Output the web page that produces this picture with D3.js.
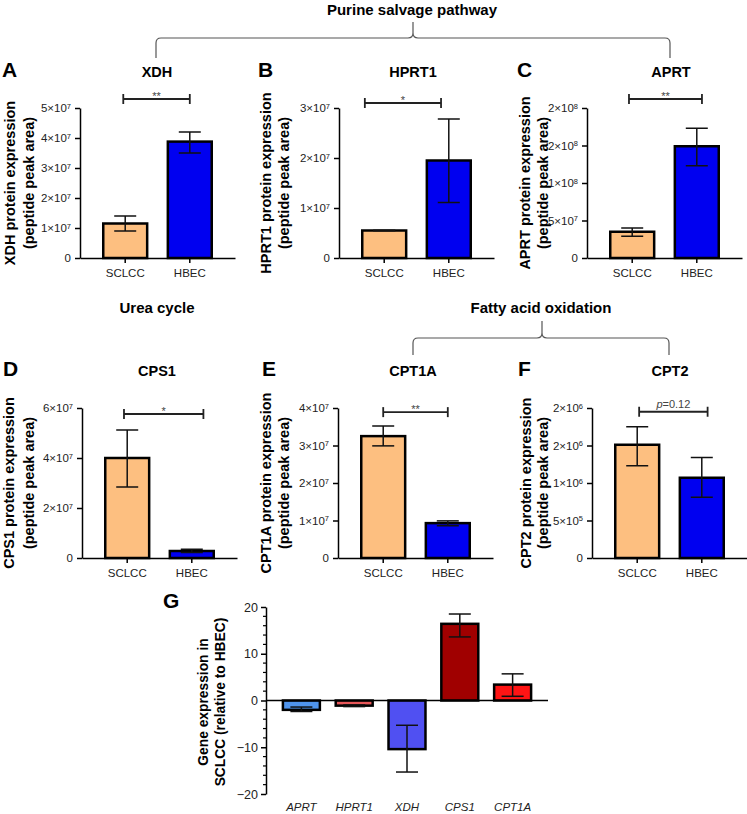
<!DOCTYPE html>
<html>
<head>
<meta charset="utf-8">
<script src="https://cdn.jsdelivr.net/npm/d3@7"></script>
<style>
  body { margin: 0; background: #fff; }
  svg { font-family: "Liberation Sans", Arial, sans-serif; }
</style>
</head>
<body>
<svg id="fig" width="747" height="814"></svg>
<script>
// ---- data ----
const groups = ["SCLCC", "HBEC"];
const genes = ["XDH", "HPRT1", "APRT", "CPS1", "CPT1A", "CPT2"];
const letters = ["A", "B", "C", "D", "E", "F"];

const meanSCLCC = [1.15e7, 5.5e6, 3.5e7, 4.0e7, 3.25e7, 1.51e6];
const errSCLCC = [[0.9e7, 1.4e7], [5.5e6, 5.5e6], [2.9e7, 4.0e7], [2.84e7, 5.12e7], [2.99e7, 3.52e7], [1.23e6, 1.75e6]];
const meanHBEC = [3.88e7, 1.95e7, 1.49e8, 2.8e6, 9.3e6, 1.07e6];
const errHBEC = [[3.5e7, 4.2e7], [1.11e7, 2.78e7], [1.23e8, 1.73e8], [2.2e6, 3.5e6], [8.6e6, 9.9e6], [0.81e6, 1.34e6]];

const yMax = [5e7, 3e7, 2e8, 6e7, 4e7, 2e6];
const tickVals = [
  [0, 1e7, 2e7, 3e7, 4e7, 5e7],
  [0, 1e7, 2e7, 3e7],
  [0, 5e7, 1e8, 1.5e8, 2e8],
  [0, 2e7, 4e7, 6e7],
  [0, 1e7, 2e7, 3e7, 4e7],
  [0, 5e5, 1e6, 1.5e6, 2e6]
];
const tickText = [
  ["0", "1×10^7", "2×10^7", "3×10^7", "4×10^7", "5×10^7"],
  ["0", "1×10^7", "2×10^7", "3×10^7"],
  ["0", "5×10^7", "1×10^8", "2×10^8", "2×10^8"],
  ["0", "2×10^7", "4×10^7", "6×10^7"],
  ["0", "1×10^7", "2×10^7", "3×10^7", "4×10^7"],
  ["0", "5×10^5", "1×10^6", "2×10^6", "2×10^6"]
];

// significance brackets: label, height (data units), extent in category units
const sigLabel = ["**", "*", "**", "*", "**", "p=0.12"];
const sigLevel = [5.3e7, 3.1e7, 2.12e8, 5.76e7, 3.89e7, 1.95e6];
const sigSpan = [[-0.03, 1.0], [-0.3, 0.88], [-0.05, 1.08], [-0.05, 1.18], [0, 1], [0.03, 1.09]];

// panel G: qPCR fold change
const qGenes = ["APRT", "HPRT1", "XDH", "CPS1", "CPT1A"];
const qFold = [-2.0, -1.1, -10.4, 16.4, 3.4];
const qLo = [-2.35, -1.3, -15.3, 13.6, 0.9];
const qHi = [-1.4, -0.95, -5.3, 18.5, 5.7];
const qColors = ["#4f94ec", "#e8585a", "#5050f2", "#a00000", "#ff1414"];

const peach = "#fdbf80", blue = "#0000f0";

// ---- layout ----
const layout = [
  {x: 80,  top: 108, tx: 157, lx: 2,   ty: 77,  yl: [15, 34]},
  {x: 339, top: 108, tx: 413, lx: 258, ty: 77,  yl: [271, 289]},
  {x: 587, top: 108, tx: 671, lx: 517, ty: 77,  yl: [530, 548]},
  {x: 82,  top: 408, tx: 157, lx: 3,   ty: 376, yl: [14, 34]},
  {x: 338, top: 408, tx: 413, lx: 262, ty: 376, yl: [271, 289]},
  {x: 592, top: 408, tx: 670, lx: 518, ty: 376, yl: [531, 548]}
];
const plotH = 150, plotW = 155;

const svg = d3.select("#fig");

function supLabel(sel, str) {
  sel.text(null);
  const parts = str.split("^");
  sel.append("tspan").text(parts[0]);
  if (parts[1]) {
    sel.append("tspan").attr("dy", "-0.45em").attr("font-size", "0.65em").text(parts[1]);
  }
}

genes.forEach(function(gene, i) {
  const L = layout[i];
  const g = svg.append("g").attr("transform", `translate(${L.x},${L.top})`);
  const x = d3.scaleBand().domain(groups).range([0, plotW]).paddingInner(0.32).paddingOuter(0.36);
  const y = d3.scaleLinear().domain([0, yMax[i]]).range([plotH, 0]);
  const bw = x.bandwidth();

  const rows = [
    {grp: "SCLCC", v: meanSCLCC[i], lo: errSCLCC[i][0], hi: errSCLCC[i][1], c: peach},
    {grp: "HBEC", v: meanHBEC[i], lo: errHBEC[i][0], hi: errHBEC[i][1], c: blue}
  ];

  g.selectAll(".bar").data(rows).enter().append("rect")
    .attr("x", d => x(d.grp))
    .attr("y", d => y(d.v))
    .attr("width", bw)
    .attr("height", d => y(0) - y(d.v))
    .attr("fill", d => d.c)
    .attr("stroke", "#000")
    .attr("stroke-width", 2.5);

  const eb = g.selectAll(".err").data(rows).enter().append("g")
    .attr("transform", d => `translate(${x(d.grp) + bw / 2},0)`)
    .attr("stroke", "#111").attr("stroke-width", 1.5);
  eb.append("line").attr("y1", d => y(d.lo)).attr("y2", d => y(d.hi));
  eb.append("line").attr("x1", -11).attr("x2", 11).attr("y1", d => y(d.hi)).attr("y2", d => y(d.hi));
  eb.append("line").attr("x1", -11).attr("x2", 11).attr("y1", d => y(d.lo)).attr("y2", d => y(d.lo));

  // axes
  const ya = g.append("g").call(d3.axisLeft(y).tickValues(tickVals[i]).tickSize(5).tickSizeOuter(0).tickPadding(4));
  ya.selectAll("text").attr("font-size", 11.5).attr("fill", "#222").attr("font-family", null)
    .each(function(d, k) { supLabel(d3.select(this), tickText[i][k]); });
  const xa = g.append("g").attr("transform", `translate(0,${plotH})`)
    .call(d3.axisBottom(x).tickSize(5).tickSizeOuter(0).tickPadding(6));
  xa.selectAll("text").attr("font-size", 11.5).attr("fill", "#222").attr("font-family", null);
  g.selectAll(".domain, .tick line").attr("stroke", "#000").attr("stroke-width", 1.5);

  // significance bracket
  const sx = d3.scaleLinear().domain([0, 1]).range([x("SCLCC") + bw / 2, x("HBEC") + bw / 2]);
  const sy = y(sigLevel[i]);
  const x1 = sx(sigSpan[i][0]), x2 = sx(sigSpan[i][1]);
  const sb = g.append("g").attr("stroke", "#222").attr("stroke-width", 1.8);
  sb.append("line").attr("x1", x1).attr("x2", x2).attr("y1", sy).attr("y2", sy);
  sb.append("line").attr("x1", x1).attr("x2", x1).attr("y1", sy - 5).attr("y2", sy + 5);
  sb.append("line").attr("x1", x2).attr("x2", x2).attr("y1", sy - 5).attr("y2", sy + 5);
  const lab = sigLabel[i];
  const st = g.append("text").attr("x", (x1 + x2) / 2).attr("text-anchor", "middle")
    .attr("font-size", 11).attr("fill", "#444");
  if (lab.startsWith("p")) {
    st.attr("y", sy - 4);
    st.append("tspan").attr("font-style", "italic").text("p");
    st.append("tspan").text(lab.slice(1));
  } else {
    st.attr("y", sy + 1).text(lab);
  }

  // titles
  svg.append("text").attr("x", L.tx).attr("y", L.ty).attr("text-anchor", "middle")
    .attr("font-weight", "bold").attr("font-size", 14.5).text(gene);
  svg.append("text").attr("x", L.lx).attr("y", L.ty).attr("font-weight", "bold")
    .attr("font-size", 21).text(letters[i]);

  const cy = L.top + plotH / 2;
  const ylab = svg.append("g").attr("font-weight", "bold").attr("font-size", 14.5).attr("text-anchor", "middle");
  ylab.append("text").attr("transform", `translate(${L.yl[0]},${cy}) rotate(-90)`).text(gene + " protein expression");
  ylab.append("text").attr("transform", `translate(${L.yl[1]},${cy}) rotate(-90)`).text("(peptide peak area)");
});

// ---- group headers and braces ----
function brace(x1, x2, xm, yh, yEnd, yTop) {
  const r = 5;
  return `M${x1},${yEnd} V${yh + r} Q${x1},${yh} ${x1 + r},${yh} H${xm - r} Q${xm},${yh} ${xm},${yh - r} V${yTop}` +
         ` M${xm},${yh - r} Q${xm},${yh} ${xm + r},${yh} H${x2 - r} Q${x2},${yh} ${x2},${yh + r} V${yEnd}`;
}
svg.append("path").attr("d", brace(156, 670, 413, 38, 58, 22))
  .attr("fill", "none").attr("stroke", "#555").attr("stroke-width", 1.2);
svg.append("path").attr("d", brace(413, 669, 542, 338, 355, 321))
  .attr("fill", "none").attr("stroke", "#555").attr("stroke-width", 1.2);

const headers = [["Purine salvage pathway", 412, 15], ["Urea cycle", 157, 313], ["Fatty acid oxidation", 541, 313]];
svg.selectAll(".hdr").data(headers).enter().append("text")
  .attr("x", d => d[1]).attr("y", d => d[2]).attr("text-anchor", "middle")
  .attr("font-weight", "bold").attr("font-size", 15).text(d => d[0]);

// ---- panel G ----
const gx = d3.scaleBand().domain(qGenes).range([266, 548]).paddingInner(0.3).paddingOuter(0.32);
const gy = d3.scaleLinear().domain([-20, 20]).range([794, 607]);
const gbw = gx.bandwidth();
const qRows = qGenes.map((k, i) => ({k: k, v: qFold[i], lo: qLo[i], hi: qHi[i], c: qColors[i]}));

svg.selectAll(".qbar").data(qRows).enter().append("rect")
  .attr("x", d => gx(d.k))
  .attr("y", d => Math.min(gy(d.v), gy(0)))
  .attr("width", gbw)
  .attr("height", d => Math.abs(gy(d.v) - gy(0)))
  .attr("fill", d => d.c)
  .attr("stroke", "#000")
  .attr("stroke-width", 2.5);

const qeb = svg.selectAll(".qerr").data(qRows).enter().append("g")
  .attr("transform", d => `translate(${gx(d.k) + gbw / 2},0)`)
  .attr("stroke", "#111").attr("stroke-width", 1.5);
qeb.append("line").attr("y1", d => gy(d.lo)).attr("y2", d => gy(d.hi));
qeb.append("line").attr("x1", -11).attr("x2", 11).attr("y1", d => gy(d.hi)).attr("y2", d => gy(d.hi));
qeb.append("line").attr("x1", -11).attr("x2", 11).attr("y1", d => gy(d.lo)).attr("y2", d => gy(d.lo));

svg.append("line").attr("x1", 266).attr("x2", 548).attr("y1", gy(0)).attr("y2", gy(0))
  .attr("stroke", "#000").attr("stroke-width", 1.5);

const gya = svg.append("g").attr("transform", "translate(266,0)")
  .call(d3.axisLeft(gy).tickValues([-20, -10, 0, 10, 20]).tickSize(5).tickSizeOuter(0).tickPadding(3)
    .tickFormat(d => d < 0 ? "\u2212" + (-d) : d));
gya.selectAll("text").attr("font-size", 12.5).attr("fill", "#222").attr("font-family", null);
gya.selectAll(".domain, .tick line").attr("stroke", "#000").attr("stroke-width", 1.5);
gya.selectAll(".minor").data(d3.range(-20, 21, 2).filter(v => v % 10 !== 0)).enter().append("line")
  .attr("x1", -3).attr("x2", 0).attr("y1", d => gy(d)).attr("y2", d => gy(d))
  .attr("stroke", "#000").attr("stroke-width", 1.2);

svg.selectAll(".qlab").data(qGenes).enter().append("text")
  .attr("x", d => gx(d) + gbw / 2).attr("y", 811).attr("text-anchor", "middle")
  .attr("font-style", "italic").attr("font-size", 11.5).attr("fill", "#222").text(d => d);

svg.append("text").attr("x", 163).attr("y", 608).attr("font-weight", "bold").attr("font-size", 21).text("G");
const gyl = svg.append("g").attr("font-weight", "bold").attr("font-size", 13.8).attr("text-anchor", "middle");
gyl.append("text").attr("transform", "translate(208,702) rotate(-90)").text("Gene expression in");
gyl.append("text").attr("transform", "translate(225,702) rotate(-90)").text("SCLCC (relative to HBEC)");
</script>
</body>
</html>
